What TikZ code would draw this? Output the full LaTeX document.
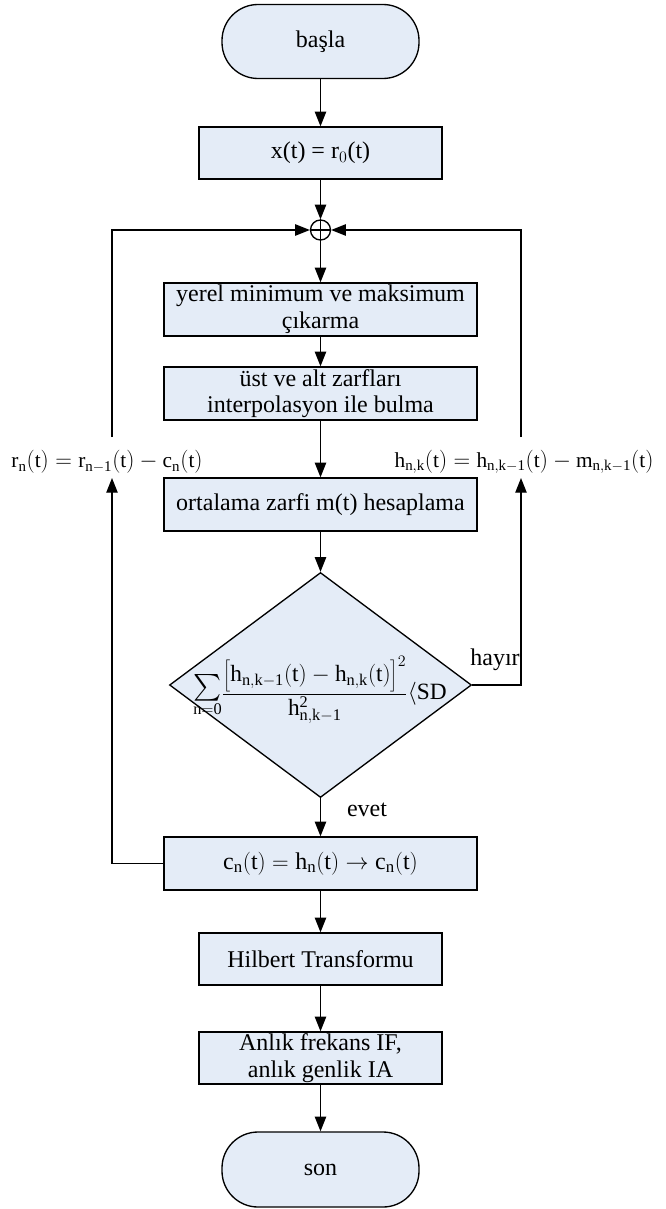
\documentclass[tikz,border=0pt]{standalone}
\usepackage{fontspec}
\usepackage{graphicx}
\setmainfont{Liberation Serif}
\usetikzlibrary{arrows.meta,shapes.geometric}
\definecolor{boxblue}{RGB}{228,236,247}
\tikzset{every picture/.style={line width=1pt}}
\tikzset{
  procbox/.style={draw,fill=boxblue,minimum width=234.75pt,minimum height=39.75pt,inner sep=0.75pt,align=center,font=\fontsize{18}{20}\selectfont},
  smallbox/.style={procbox,minimum width=182.25pt,minimum height=39pt},
  termbox/.style={draw,fill=boxblue,rounded corners=27pt,minimum width=147.75pt,minimum height=55.5pt,font=\fontsize{18}{20}\selectfont},
  eqlabel/.style={inner sep=0.75pt,font=\fontsize{16}{18}\selectfont},
  arr/.style={-{Triangle[length=11pt,width=8.5pt]}}
}

\begin{document}
\begin{tikzpicture}[x=0.75pt,y=0.75pt,yscale=-1,xscale=1]
\useasboundingbox (0,0) rectangle (665,1209);

%Flowchart: Terminator
\node (basla) at (320.5,41.5) [termbox] {başla};
%Flowchart: Process
\node (xt) at (320.5,153) [smallbox] {x(t) = r$_0$(t)};
%Shape: Circle
\node (sum) at (320.5,230) [draw,circle,minimum size=15pt,inner sep=0pt] {};
%Flowchart: Process
\node (yerel) at (320.5,309.5) [procbox] {yerel minimum ve maksimum\\çıkarma};
%Flowchart: Process
\node (ust) at (320.5,393.5) [procbox] {üst ve alt zarfları\\interpolasyon ile bulma};
%Flowchart: Process
\node (ortalama) at (320.5,504.5) [procbox] {ortalama zarfi m(t) hesaplama};
%Flowchart: Decision
\node (dia) at (320.5,685) [draw,fill=boxblue,diamond,minimum width=226.5pt,minimum height=168.75pt,inner sep=0pt] {};
%Flowchart: Process
\node (cn) at (320.5,863.5) [procbox] {$\mathrm{c_n(t)=h_n(t)\rightarrow c_n(t)}$};
%Flowchart: Process
\node (hilbert) at (320.5,959) [smallbox] {Hilbert Transformu};
%Flowchart: Process
\node (anlik) at (320.5,1058) [smallbox] {Anlık frekans IF,\\anlık genlik IA};
%Flowchart: Terminator
\node (son) at (320.5,1169.5) [termbox,minimum height=56.25pt] {son};

% Text Node
\node (crit) at (320,690) [inner sep=0.75pt,font=\fontsize{17.5}{19}\selectfont] {$\displaystyle\mathop{\scalebox{2}{$\sum$}}\limits_{\mathrm{n=0}}\!\frac{\bigg[\mathrm{h_{n,k-1}(t)-h_{n,k}(t)}\bigg]^2}{\mathrm{h^2_{n,k-1}}}\langle\mathrm{SD}$};
% Text Node
\node (rlab) at (107,462) [eqlabel] {$\mathrm{r_n(t)=r_{n-1}(t)-c_n(t)}$};
% Text Node
\node (hlab) at (524,462) [eqlabel] {$\mathrm{h_{n,k}(t)=h_{n,k-1}(t)-m_{n,k-1}(t)}$};
% Text Node
\node (hayir) at (495,660) [inner sep=0.75pt,font=\fontsize{18}{20}\selectfont] {hayır};
% Text Node
\node (evet) at (367,810) [inner sep=0.75pt,font=\fontsize{18}{20}\selectfont] {evet};

\coordinate (lbot) at (112,478);
\coordinate (ltop) at (112,437);
\coordinate (rbot) at (521,478);
\coordinate (rtop) at (521,437);

%Straight Lines
\draw [arr] (basla) -- (xt);
\draw [arr] (xt) -- (sum);
\draw (sum.north) -- (sum.south) (sum.west) -- (sum.east);
\draw [arr] (sum) -- (yerel);
\draw [arr] (yerel) -- (ust);
\draw [arr] (ust) -- (ortalama);
\draw [arr] (ortalama) -- (dia);
\draw [arr] (dia) -- (cn);
\draw [arr] (cn) -- (hilbert);
\draw [arr] (hilbert) -- (anlik);
\draw [arr] (anlik) -- (son);
%Feedback Lines
\draw [arr] (cn.west) -| (lbot);
\draw [arr] (ltop) |- (sum.west);
\draw [arr] (dia.east) -| (rbot);
\draw [arr] (rtop) |- (sum.east);

\end{tikzpicture}
\end{document}
